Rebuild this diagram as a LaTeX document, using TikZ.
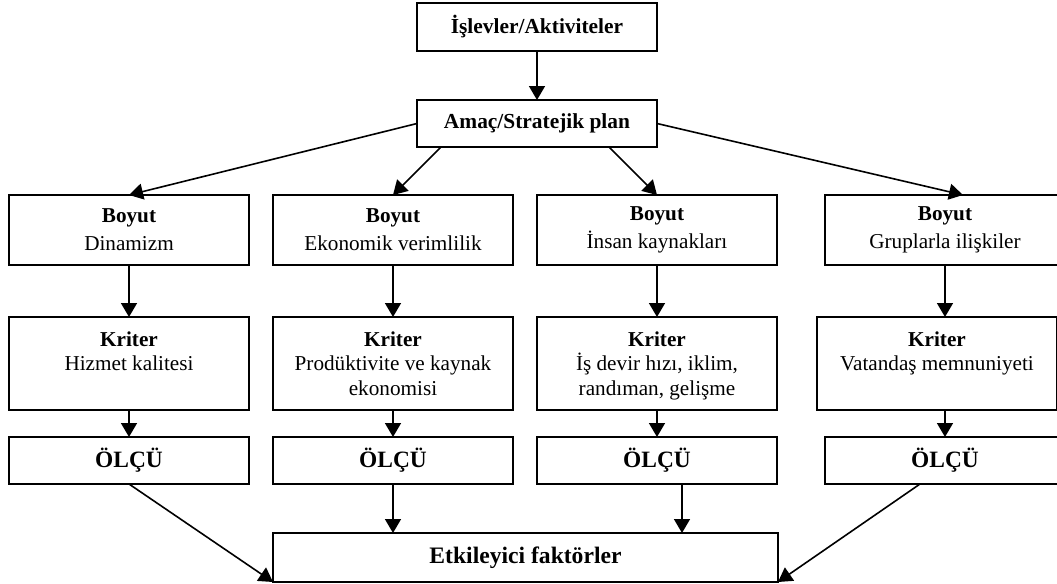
\documentclass[tikz,border=0pt]{standalone}
\usepackage{fontspec}
\setmainfont{Liberation Serif}
\usetikzlibrary{arrows.meta, positioning, calc}

\tikzset{
  kutu/.style={draw=black, line width=0.8pt, minimum width=120pt, inner sep=2pt, outer sep=0pt, align=center, font=\fontsize{10.6}{14}\selectfont},
  boyutkutu/.style={kutu, minimum height=35pt},
  kriterkutu/.style={kutu, minimum height=46.5pt},
  olcukutu/.style={kutu, minimum height=23.5pt, font=\fontsize{11.7}{14}\selectfont\bfseries},
  baskutu/.style={kutu, font=\fontsize{10.7}{13}\selectfont\bfseries},
  kritermetin/.style={anchor=north, align=center, inner sep=0pt, yshift=-7pt, font=\fontsize{10.6}{12.3}\selectfont},
  ok/.style={line width=0.8pt, -{Triangle[length=7pt, width=8pt]}}
}

\begin{document}
\begin{tikzpicture}[x=0.5pt, y=-0.5pt]
  \useasboundingbox (0,0) rectangle (1057,584);
  \clip (0,0) rectangle (1057,584);
  % ust kutular
  \node[baskutu, minimum height=24pt] (islev) at (537,27) {İşlevler/Aktiviteler};
  \node[baskutu, minimum height=23.5pt] (amac) at (537,123.5) {Amaç/Stratejik plan};
  % boyutlar
  \node[boyutkutu] (boyut1) at (129,230) {\textbf{Boyut}\\Dinamizm};
  \node[boyutkutu] (boyut2) at (393,230) {\textbf{Boyut}\\Ekonomik verimlilik};
  \node[boyutkutu] (boyut3) at (657,230) {\textbf{Boyut}\\İnsan kaynakları};
  \node[boyutkutu] (boyut4) at (945,230) {\textbf{Boyut}\\Gruplarla ilişkiler};
  % kriterler
  \node[kriterkutu, label={[kritermetin]north:{\textbf{Kriter}\\Hizmet kalitesi}}] (kriter1) at (129,363.5) {};
  \node[kriterkutu, label={[kritermetin]north:{\textbf{Kriter}\\Prodüktivite ve kaynak\\ekonomisi}}] (kriter2) at (393,363.5) {};
  \node[kriterkutu, label={[kritermetin]north:{\textbf{Kriter}\\İş devir hızı, iklim,\\randıman, gelişme}}] (kriter3) at (657,363.5) {};
  \node[kriterkutu, label={[kritermetin]north:{\textbf{Kriter}\\Vatandaş memnuniyeti}}] (kriter4) at (937,363.5) {};
  % olculer
  \node[olcukutu] (olcu1) at (129,460.5) {ÖLÇÜ};
  \node[olcukutu] (olcu2) at (393,460.5) {ÖLÇÜ};
  \node[olcukutu] (olcu3) at (657,460.5) {ÖLÇÜ};
  \node[olcukutu] (olcu4) at (945,460.5) {ÖLÇÜ};
  % alt kutu
  \node[kutu, minimum width=252.5pt, minimum height=24.5pt, font=\fontsize{11.8}{14}\selectfont\bfseries] (etki) at (525.5,557.5) {Etkileyici faktörler};

  % oklar
  \draw[ok] (islev) -- (amac);
  \draw[ok] (amac.west) -- (boyut1.north);
  \draw[ok] ([xshift=12pt]amac.south west) -- (boyut2.north);
  \draw[ok] ([xshift=-24pt]amac.south east) -- (boyut3.north);
  \draw[ok] (amac.east) -- ([xshift=9pt]boyut4.north);

  \draw[ok] (boyut1) -- (kriter1);
  \draw[ok] (boyut2) -- (kriter2);
  \draw[ok] (boyut3) -- (kriter3);
  \draw[ok] (boyut4.south) -- (boyut4.south |- kriter4.north);

  \draw[ok] (kriter1) -- (olcu1);
  \draw[ok] (kriter2) -- (olcu2);
  \draw[ok] (kriter3) -- (olcu3);
  \draw[ok] (olcu4.north |- kriter4.south) -- (olcu4.north);

  \coordinate (o3alt) at ([xshift=12.5pt]olcu3.south);
  \coordinate (o4alt) at ([xshift=-12.5pt]olcu4.south);
  \draw[ok] (olcu1.south) -- (etki.south west);
  \draw[ok] (olcu2.south) -- (olcu2.south |- etki.north);
  \draw[ok] (o3alt) -- (o3alt |- etki.north);
  \draw[ok] (o4alt) -- (etki.south east);
\end{tikzpicture}
\end{document}
